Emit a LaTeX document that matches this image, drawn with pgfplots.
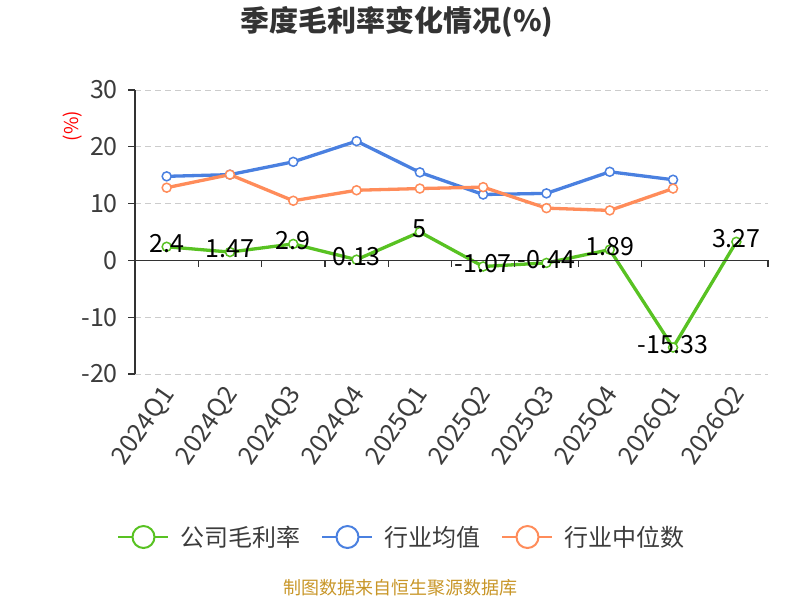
\documentclass[border=0pt]{standalone}
\usepackage{fontspec}
\setmainfont{Noto Sans CJK SC}
\usepackage{pgfplots}
\pgfplotsset{compat=1.18}
\definecolor{cgreen}{RGB}{88,194,34}
\definecolor{cblue}{RGB}{74,128,224}
\definecolor{corange}{RGB}{255,140,90}
\definecolor{axisgray}{RGB}{51,51,51}
\definecolor{tickgray}{RGB}{60,60,60}
\definecolor{gridgray}{RGB}{204,204,204}
\definecolor{footcol}{RGB}{200,150,40}
\begin{document}
\begin{tikzpicture}
\path[use as bounding box] (0pt,0pt) rectangle (800pt,600pt);
\begin{axis}[
  at={(135pt,226pt)}, anchor=south west,
  width=633pt, height=284pt, scale only axis,
  xmin=-0.5, xmax=9.5, ymin=-20, ymax=30,
  axis lines*=left,
  axis line style={-, draw=axisgray, line width=1.2pt},
  x axis line style={draw=none},
  xtick={0,1,2,3,4,5,6,7,8,9},
  xticklabels={2024Q1,2024Q2,2024Q3,2024Q4,2025Q1,2025Q2,2025Q3,2025Q4,2026Q1,2026Q2},
  xtick style={draw=none},
  ytick={-20,-10,0,10,20,30},
  yticklabels={-20,-10,0,10,20,30},
  ytick align=outside,
  major tick length=7pt,
  ytick style={draw=axisgray, line width=1.2pt},
  ymajorgrids,
  grid style={draw=gridgray, line width=1pt, dash pattern=on 6pt off 4pt},
  tick label style={font=\fontsize{25}{25}\selectfont, text=tickgray},
  yticklabel style={inner sep=0pt, xshift=-10pt},
  xticklabel style={xshift=3pt, yshift=-16pt, rotate=55, anchor=east, inner sep=0pt},
  clip=false,
  legend style={at={(axis description cs:0.4218,-0.574)}, anchor=center, draw=none, fill=none,
    legend columns=3, font=\fontsize{24}{24}\selectfont, text=tickgray,
    /tikz/every odd column/.append style={column sep=9pt},
    /tikz/every even column/.append style={column sep=19pt}},
  legend image code/.code={
    \draw[#1, line width=2pt, mark=none] (0pt,0pt) -- (50pt,0pt);
    \draw[#1, line width=2pt, mark=none, fill=white] (25pt,0pt) circle (11pt);
  },
]
\addplot[cgreen, line width=3.3pt, mark=*, mark size=4.5pt, mark options={fill=white, line width=1.5pt},
  point meta=explicit symbolic, nodes near coords,
  every node near coord/.style={anchor=center, yshift=3pt, text=black, font=\fontsize{25}{25}\selectfont}]
  coordinates {(0,2.4)[2.4] (1,1.47)[1.47] (2,2.9)[2.9] (3,0.13)[0.13] (4,5)[5]
    (5,-1.07)[-1.07] (6,-0.44)[-0.44] (7,1.89)[1.89] (8,-15.33)[-15.33] (9,3.27)[3.27]};
\addplot[cblue, line width=3.3pt, mark=*, mark size=4.5pt, mark options={fill=white, line width=1.5pt}]
  coordinates {(0,14.8) (1,15.1) (2,17.35) (3,21.0) (4,15.5) (5,11.6) (6,11.8) (7,15.6) (8,14.2)};
\addplot[corange, line width=3.3pt, mark=*, mark size=4.5pt, mark options={fill=white, line width=1.5pt}]
  coordinates {(0,12.8) (1,15.1) (2,10.5) (3,12.35) (4,12.65) (5,12.9) (6,9.2) (7,8.8) (8,12.65)};
\legend{公司毛利率,行业均值,行业中位数}
\draw[axisgray, line width=1.2pt] (axis cs:-0.5,0) -- (axis cs:9.5,0);
\pgfplotsinvokeforeach{0.5,1.5,2.5,3.5,4.5,5.5,6.5,7.5,8.5,9.5}{
  \draw[axisgray, line width=1.2pt] (axis cs:#1,0) -- ++(0pt,-7pt);
}
\end{axis}
\node[font=\fontsize{29}{29}\selectfont\bfseries, text=axisgray] at (397pt,578pt) {季度毛利率变化情况(\%)};
\node[rotate=90, text=red, font=\fontsize{19}{19}\selectfont] at (73pt,474pt) {(\%)};
\node[text=footcol, font=\fontsize{18}{18}\selectfont] at (400pt,12pt) {制图数据来自恒生聚源数据库};
\end{tikzpicture}
\end{document}
